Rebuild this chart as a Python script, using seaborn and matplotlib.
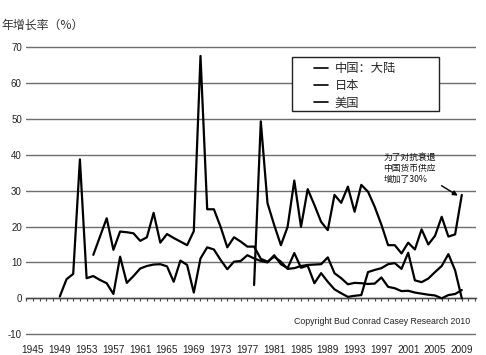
import numpy as np
import pandas as pd
import matplotlib
matplotlib.use('Agg')
import matplotlib.pyplot as plt
import seaborn as sns
from matplotlib.patches import Rectangle
from matplotlib.ticker import MultipleLocator, FixedLocator

# data (annual money supply growth, %)
china_years = list(range(1978, 2010))
china_vals = [3.7, 49.3, 26.5, 20.4, 14.8, 19.9, 32.8, 19.9, 30.4, 26.0, 21.3, 19.0,
              28.8, 26.6, 31.1, 24.1, 31.6, 29.7, 25.5, 20.5, 14.8, 14.8, 12.5, 15.5,
              13.6, 19.2, 15.0, 17.4, 22.7, 17.2, 17.8, 28.8]

japan_years = list(range(1954, 2010))
japan_vals = [12.1, 17.2, 22.3, 13.5, 18.6, 18.4, 18.1, 16.0, 17.0, 23.8, 15.5, 17.9,
              16.8, 15.8, 14.8, 18.7, 67.5, 24.8, 24.8, 19.9, 14.2, 17.0, 15.8, 14.4,
              14.4, 11.0, 10.2, 11.6, 10.2, 8.2, 8.4, 9.0, 9.3, 9.4, 9.5, 11.4,
              7.0, 5.6, 3.9, 4.3, 4.2, 4.0, 4.1, 5.8, 3.2, 2.8, 2.0, 2.1,
              1.6, 1.3, 1.0, 0.8, 0.0, 0.9, 1.2, 2.3]

us_years = list(range(1949, 2010))
us_vals = [0.5, 5.3, 6.8, 38.7, 5.6, 6.2, 5.1, 4.2, 1.2, 11.6, 4.3, 6.2,
           8.3, 9.0, 9.4, 9.5, 8.9, 4.6, 10.5, 9.3, 1.6, 11.1, 14.2, 13.6,
           10.7, 8.1, 10.2, 10.4, 12.0, 11.1, 10.4, 10.0, 12.0, 9.5, 8.4, 12.6,
           8.5, 9.1, 4.2, 7.0, 4.6, 2.5, 1.4, 0.4, 0.7, 0.9, 7.3, 7.9,
           8.4, 9.5, 9.8, 8.2, 12.7, 5.0, 4.5, 5.5, 7.3, 9.0, 12.3, 7.8, 0.0]

series_names = ['中国：大陆', '日本', '美国']
label_years = list(range(1945, 2010, 4))
y_ticks = [-10, 0, 10, 20, 30, 40, 50, 60, 70]

df = pd.concat([
    pd.DataFrame({'year': china_years, 'rate': china_vals, 'region': series_names[0]}),
    pd.DataFrame({'year': japan_years, 'rate': japan_vals, 'region': series_names[1]}),
    pd.DataFrame({'year': us_years, 'rate': us_vals, 'region': series_names[2]}),
])

sns.set_style('white')
plt.rcParams['font.family'] = ['Liberation Sans', 'Noto Sans CJK SC', 'DejaVu Sans']
plt.rcParams['axes.unicode_minus'] = False

fig = plt.figure(figsize=(4.86, 3.55), dpi=100)
ax = fig.add_axes([26 / 486, 1 - 336 / 355, 450 / 486, 291 / 355])

sns.lineplot(data=df, x='year', y='rate', hue='region', hue_order=series_names,
             palette={n: 'black' for n in series_names}, linewidth=1.6,
             legend=False, ax=ax, zorder=3)

ax.set_xlim(1943.955, 2011.12)
ax.set_ylim(-10.5, 70.56)
ax.set_xlabel('')
ax.set_ylabel('')

# horizontal grid
ax.yaxis.set_major_locator(FixedLocator(y_ticks))
ax.grid(axis='y', color='#6e6e6e', linewidth=1.0)
ax.grid(axis='x', visible=False)
ax.tick_params(axis='y', length=0, pad=3, labelsize=7, labelcolor='#222222')

# axis line at zero with yearly ticks
for s in ['left', 'right', 'top']:
    ax.spines[s].set_visible(False)
ax.spines['bottom'].set_position(('data', 0))
ax.spines['bottom'].set_color('#444444')
ax.spines['bottom'].set_linewidth(1.0)
ax.spines['bottom'].set_zorder(2)
ax.xaxis.set_major_locator(MultipleLocator(1))
ax.tick_params(axis='x', direction='out', length=2.5, width=0.8, color='#444444',
               labelbottom=False, bottom=True)

sec = ax.secondary_xaxis('bottom')
sec.xaxis.set_major_locator(FixedLocator(label_years))
sec.tick_params(length=0, pad=6.5, labelsize=7.2, labelcolor='#222222')
sec.spines['bottom'].set_visible(False)

# legend
box = Rectangle(((292 - 26) / 450, (336 - 111) / 291), 147 / 450, 54 / 291,
                transform=ax.transAxes, facecolor='white', edgecolor='#222222',
                linewidth=1.0, zorder=5)
ax.add_patch(box)
handles = [plt.Line2D([], [], color='black', linewidth=1.2) for _ in series_names]
leg = ax.legend(handles, series_names, loc='upper left',
                bbox_to_anchor=((314 - 26) / 450, (336 - 62) / 291),
                frameon=False, borderpad=0, borderaxespad=0, handlelength=1.15,
                handletextpad=0.55, labelspacing=0.35,
                prop={'family': ['Noto Sans CJK SC'], 'size': 8.8})
leg.set_zorder(6)

# annotation
ax.annotate('为了对抗衰退\n中国货币供应\n增加了30%', xy=(2008.4, 28.6), xytext=(1997.3, 40.4),
            ha='left', va='top', fontsize=6.3, family=['Noto Sans CJK SC', 'DejaVu Sans'],
            linespacing=1.25, color='#111111',
            arrowprops=dict(arrowstyle='-|>', color='black', lw=1.0,
                            mutation_scale=7, relpos=(1.0, 0.05), shrinkA=2, shrinkB=0))

ax.text(0.9867, (336 - 322) / 291, 'Copyright Bud Conrad Casey Research 2010',
        transform=ax.transAxes, ha='right', va='center', fontsize=6.3, color='#222222')

fig.text(0.003, 1 - 25 / 355, '年增长率（%）', ha='left', va='center', fontsize=8.6,
         family=['Noto Sans CJK SC', 'DejaVu Sans'], color='#333333')

fig.savefig('out.png', dpi=100)
